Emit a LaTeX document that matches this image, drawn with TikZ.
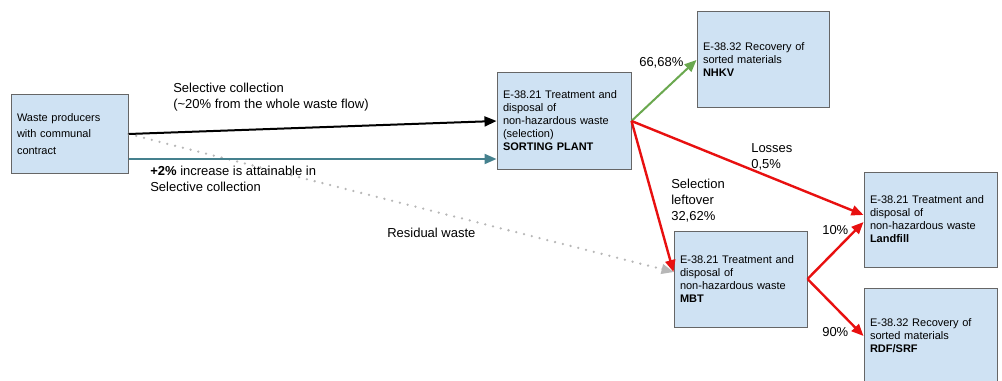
\documentclass[tikz,border=0pt]{standalone}
\usepackage{fontspec}
\setmainfont{Liberation Sans}
\usetikzlibrary{arrows.meta}
\definecolor{boxfill}{HTML}{CFE2F3}
\definecolor{boxline}{HTML}{666666}
\definecolor{flowteal}{HTML}{45818E}
\definecolor{flowgreen}{HTML}{6AA84F}
\definecolor{flowred}{HTML}{E81010}
\definecolor{flowgray}{HTML}{B7B7B7}
\begin{document}
\begin{tikzpicture}[x=0.75pt,y=-0.75pt,
  procbox/.style={draw=boxline, fill=boxfill, line width=0.75pt, rectangle,
    align=left, inner xsep=4.5pt, inner ysep=0pt,
    font=\fontsize{8.25pt}{9.75pt}\selectfont},
  lab/.style={align=left, inner sep=0pt, anchor=west,
    font=\fontsize{9.75pt}{12pt}\selectfont},
  flow/.style={line width=1.5pt, -{Triangle[length=9pt,width=7.5pt]}},
  redflow/.style={flow, draw=flowred, fill=flowred, line width=1.8pt}
]
\clip (0,0) rectangle (1002,381);
\fill[white] (0,0) rectangle (1002,381);

% process boxes
\node[procbox, minimum width=87.75pt, minimum height=58.5pt, text width=78.75pt,
  font=\fontsize{8.25pt}{12.4pt}\selectfont] (wp) at (69.5,134)
  {Waste producers\\with communal\\contract};
\node[procbox, minimum width=100.5pt, minimum height=72pt, text width=91.5pt] (sp) at (564,121)
  {E-38.21 Treatment and\\disposal of\\non-hazardous waste\\(selection)\\\textbf{SORTING PLANT}};
\node[procbox, minimum width=99pt, minimum height=72pt, text width=90pt] (nhkv) at (763,60)
  {E-38.32 Recovery of\\sorted materials\\\textbf{NHKV}};
\node[procbox, minimum width=99.75pt, minimum height=71.25pt, text width=90.75pt] (lf) at (930.5,219.5)
  {E-38.21 Treatment and\\disposal of\\non-hazardous waste\\\textbf{Landfill}};
\node[procbox, minimum width=99.75pt, minimum height=72pt, text width=90.75pt] (mbt) at (740.5,279)
  {E-38.21 Treatment and\\disposal of\\non-hazardous waste\\\textbf{MBT}};
\node[procbox, minimum width=99.75pt, minimum height=72pt, text width=90.75pt] (rdf) at (930.5,336)
  {E-38.32 Recovery of\\sorted materials\\\textbf{RDF/SRF}};

% connector end points
\coordinate (wplow) at ([yshift=-18.75pt]wp.east);
\coordinate (mbtin) at ([yshift=5.25pt]mbt.west);
\coordinate (lfhigh) at ([yshift=3.4pt]lf.west);
\coordinate (lflow) at ([yshift=-1.9pt]lf.west);

% flows
\draw[flowgray, line width=1.9pt, line cap=round, dash pattern=on 0pt off 6pt]
  (wp.east) -- ([xshift=-8pt,yshift=2pt]mbtin);
\draw[flowgray, fill=flowgray, -{Triangle[length=9pt,width=7.5pt]}, line width=1pt]
  ([xshift=-9pt,yshift=2.3pt]mbtin) -- (mbtin);
\draw[flow, black] (wp.east) -- (sp.west);
\draw[flow, flowteal] (wplow) -- (wplow -| sp.west);
\draw[flow, flowgreen] (sp.east) -- (nhkv.west);
\draw[redflow] (sp.east) -- (lfhigh);
\draw[redflow] (sp.east) -- (mbtin);
\draw[redflow] (mbt.east) -- (lflow);
\draw[redflow] (mbt.east) -- (rdf.west);

% flow labels
\node[lab] (l1) at (173,97) {Selective collection\\(\textasciitilde20\% from the whole waste flow)};
\node[lab] (l2) at (150,178.5) {\textbf{+2\%} increase is attainable in\\Selective collection};
\node[lab] (l3) at (387,233) {Residual waste};
\node[lab] (l4) at (639,63) {66,68\%};
\node[lab] (l5) at (751,157) {Losses\\0,5\%};
\node[lab] (l6) at (671,200.5) {Selection\\leftover\\32,62\%};
\node[lab] (l7) at (822,230) {10\%};
\node[lab] (l8) at (822,332) {90\%};
\end{tikzpicture}
\end{document}
